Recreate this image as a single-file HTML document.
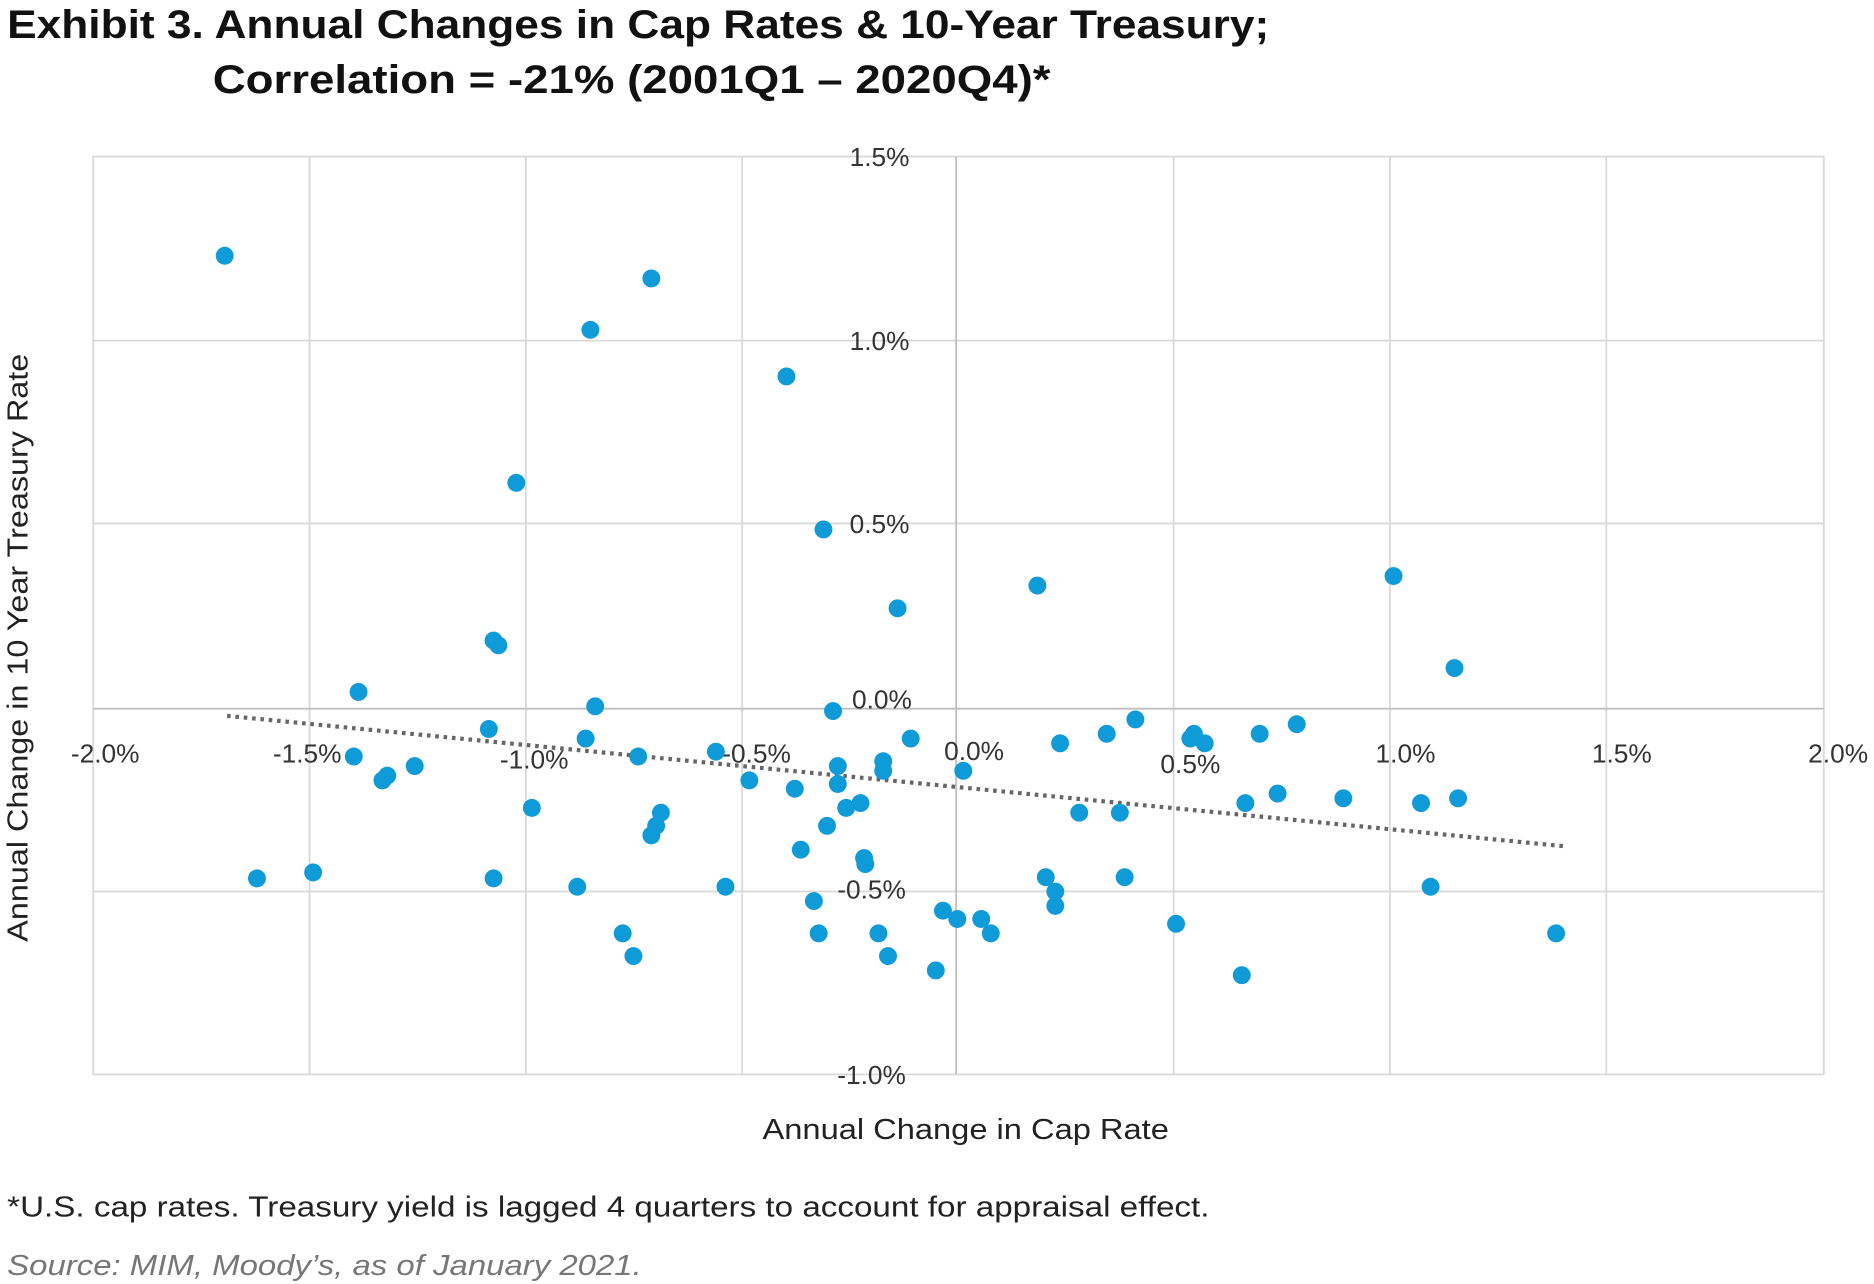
<!DOCTYPE html>
<html><head><meta charset="utf-8"><style>html,body{margin:0;padding:0;background:#fff}svg{display:block}</style></head><body>
<svg width="1874" height="1284" viewBox="0 0 1568 1074.4" preserveAspectRatio="none" xmlns="http://www.w3.org/2000/svg" font-family="Liberation Sans, sans-serif">
<text x="6" y="32" font-size="33" font-weight="bold" fill="#111" textLength="1056" lengthAdjust="spacingAndGlyphs">Exhibit 3. Annual Changes in Cap Rates &amp; 10-Year Treasury;</text>
<text x="178" y="78" font-size="33" font-weight="bold" fill="#111" textLength="701" lengthAdjust="spacingAndGlyphs">Correlation = -21% (2001Q1 – 2020Q4)*</text>
<g stroke="#d9d9d9" stroke-width="1.5" fill="none">
<rect x="78" y="131" width="1448" height="768"/>
<line x1="259" y1="131" x2="259" y2="899"/><line x1="440" y1="131" x2="440" y2="899"/><line x1="621" y1="131" x2="621" y2="899"/><line x1="982" y1="131" x2="982" y2="899"/><line x1="1163" y1="131" x2="1163" y2="899"/><line x1="1344" y1="131" x2="1344" y2="899"/>
<line x1="78" y1="285" x2="1526" y2="285"/><line x1="78" y1="438" x2="1526" y2="438"/><line x1="78" y1="746" x2="1526" y2="746"/>
</g>
<g stroke="#bfbfbf" stroke-width="1.5"><line x1="800" y1="131" x2="800" y2="899"/><line x1="78" y1="593" x2="1526" y2="593"/></g>
<g font-size="22" fill="#333" text-anchor="end">
<text x="761" y="139">1.5%</text><text x="761" y="293">1.0%</text><text x="761" y="446">0.5%</text><text x="763" y="593">0.0%</text><text x="758" y="752">-0.5%</text><text x="758" y="907">-1.0%</text>
</g>
<g font-size="22" fill="#333" text-anchor="middle">
<text x="88" y="638">-2.0%</text><text x="257" y="638">-1.5%</text><text x="447" y="643">-1.0%</text><text x="633" y="638">-0.5%</text><text x="815" y="636">0.0%</text><text x="996" y="647">0.5%</text><text x="1176" y="638">1.0%</text><text x="1357" y="638">1.5%</text><text x="1538" y="638">2.0%</text>
</g>
<line x1="190" y1="599" x2="1308" y2="708" stroke="#666" stroke-width="3.5" stroke-dasharray="3,4"/>
<g fill="#0f9ad8">
<circle cx="188" cy="214" r="7.5"/><circle cx="545" cy="233" r="7.5"/><circle cx="494" cy="276" r="7.5"/><circle cx="658" cy="315" r="7.5"/><circle cx="432" cy="404" r="7.5"/><circle cx="689" cy="443" r="7.5"/><circle cx="868" cy="490" r="7.5"/><circle cx="1166" cy="482" r="7.5"/><circle cx="751" cy="509" r="7.5"/><circle cx="413" cy="536" r="7.5"/><circle cx="417" cy="540" r="7.5"/><circle cx="1217" cy="559" r="7.5"/><circle cx="300" cy="579" r="7.5"/><circle cx="498" cy="591" r="7.5"/><circle cx="697" cy="595" r="7.5"/><circle cx="409" cy="610" r="7.5"/><circle cx="490" cy="618" r="7.5"/><circle cx="950" cy="602" r="7.5"/><circle cx="999" cy="614" r="7.5"/><circle cx="996" cy="618" r="7.5"/><circle cx="1008" cy="622" r="7.5"/><circle cx="1054" cy="614" r="7.5"/><circle cx="1085" cy="606" r="7.5"/><circle cx="926" cy="614" r="7.5"/><circle cx="887" cy="622" r="7.5"/><circle cx="762" cy="618" r="7.5"/><circle cx="296" cy="633" r="7.5"/><circle cx="534" cy="633" r="7.5"/><circle cx="599" cy="629" r="7.5"/><circle cx="739" cy="637" r="7.5"/><circle cx="739" cy="645" r="7.5"/><circle cx="701" cy="641" r="7.5"/><circle cx="806" cy="645" r="7.5"/><circle cx="324" cy="649" r="7.5"/><circle cx="320" cy="653" r="7.5"/><circle cx="347" cy="641" r="7.5"/><circle cx="627" cy="653" r="7.5"/><circle cx="665" cy="660" r="7.5"/><circle cx="701" cy="656" r="7.5"/><circle cx="1069" cy="664" r="7.5"/><circle cx="1124" cy="668" r="7.5"/><circle cx="1189" cy="672" r="7.5"/><circle cx="1220" cy="668" r="7.5"/><circle cx="1042" cy="672" r="7.5"/><circle cx="445" cy="676" r="7.5"/><circle cx="553" cy="680" r="7.5"/><circle cx="549" cy="691" r="7.5"/><circle cx="545" cy="699" r="7.5"/><circle cx="708" cy="676" r="7.5"/><circle cx="720" cy="672" r="7.5"/><circle cx="903" cy="680" r="7.5"/><circle cx="937" cy="680" r="7.5"/><circle cx="692" cy="691" r="7.5"/><circle cx="670" cy="711" r="7.5"/><circle cx="723" cy="718" r="7.5"/><circle cx="724" cy="723" r="7.5"/><circle cx="215" cy="735" r="7.5"/><circle cx="262" cy="730" r="7.5"/><circle cx="413" cy="735" r="7.5"/><circle cx="483" cy="742" r="7.5"/><circle cx="607" cy="742" r="7.5"/><circle cx="875" cy="734" r="7.5"/><circle cx="941" cy="734" r="7.5"/><circle cx="883" cy="746" r="7.5"/><circle cx="883" cy="758" r="7.5"/><circle cx="1197" cy="742" r="7.5"/><circle cx="681" cy="754" r="7.5"/><circle cx="789" cy="762" r="7.5"/><circle cx="801" cy="769" r="7.5"/><circle cx="821" cy="769" r="7.5"/><circle cx="829" cy="781" r="7.5"/><circle cx="984" cy="773" r="7.5"/><circle cx="521" cy="781" r="7.5"/><circle cx="685" cy="781" r="7.5"/><circle cx="735" cy="781" r="7.5"/><circle cx="1302" cy="781" r="7.5"/><circle cx="530" cy="800" r="7.5"/><circle cx="743" cy="800" r="7.5"/><circle cx="783" cy="812" r="7.5"/><circle cx="1039" cy="816" r="7.5"/>
</g>
<text x="638" y="953" font-size="24" fill="#222" textLength="340" lengthAdjust="spacingAndGlyphs">Annual Change in Cap Rate</text>
<text transform="translate(23,542) rotate(-90)" font-size="24" fill="#222" text-anchor="middle" textLength="492" lengthAdjust="spacingAndGlyphs">Annual Change in 10 Year Treasury Rate</text>
<text x="6" y="1018" font-size="24" fill="#222" textLength="1006" lengthAdjust="spacingAndGlyphs">*U.S. cap rates. Treasury yield is lagged 4 quarters to account for appraisal effect.</text>
<text x="6" y="1067" font-size="24" font-style="italic" fill="#777" textLength="531" lengthAdjust="spacingAndGlyphs">Source: MIM, Moody’s, as of January 2021.</text>
</svg>
</body></html>
